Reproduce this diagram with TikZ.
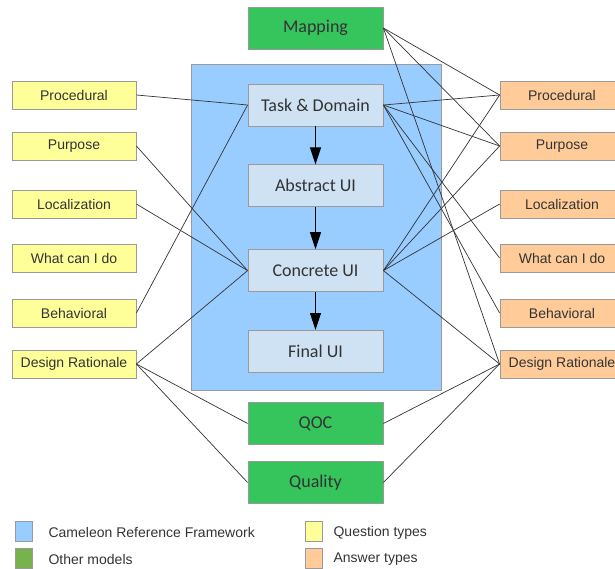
\documentclass[tikz,border=0pt]{standalone}
\usepackage{fontspec}
\setmainfont{Liberation Sans}
\newfontfamily\calibri{Carlito}
\usetikzlibrary{positioning, arrows.meta}

\definecolor{crfblue}{HTML}{99CCFF}
\definecolor{layerblue}{HTML}{CFE2F3}
\definecolor{modelgreen}{HTML}{36C45D}
\definecolor{legendgreen}{HTML}{77B24C}
\definecolor{qyellow}{HTML}{FFFF99}
\definecolor{aorange}{HTML}{FFCC99}
\definecolor{boxgray}{HTML}{9A9A9A}

\tikzset{
  model/.style={draw=black!40, fill=modelgreen, line width=0.8pt, inner sep=0pt, minimum width=135pt, minimum height=42pt, font=\calibri\fontsize{18}{20}\selectfont, text=black!80},
  layer/.style={model, draw=boxgray, fill=layerblue},
  question/.style={draw=boxgray, fill=qyellow, line width=0.8pt, inner sep=0pt, minimum width=124pt, minimum height=28pt, font=\fontsize{14}{16}\selectfont, text=black!80},
  answer/.style={question, fill=aorange},
  link/.style={draw=black!80, line width=0.7pt},
  refine/.style={-{Triangle[length=17pt,width=11pt]}, line width=1pt},
  key/.style={draw=boxgray, line width=0.8pt, inner sep=0pt, minimum width=17pt, minimum height=20pt},
  keytext/.style={inner sep=0pt, yshift=-1.5pt, font=\fontsize{14}{16}\selectfont, text=black!80}
}

\begin{document}
\begin{tikzpicture}[x=1pt, y=-1pt]
        \useasboundingbox (0,0) rectangle (615,569);

        % reference framework
        \node[draw=boxgray, fill=crfblue, line width=0.8pt, minimum width=250pt, minimum height=326pt] (crf) at (316,227) {};
        \node[layer] (task) at (315.5,105) {Task \& Domain};
        \node[layer, below=38pt of task] (abstract) {Abstract UI};
        \node[layer, below=42pt of abstract] (concrete) {Concrete UI};
        \node[layer, below=38pt of concrete] (final) {Final UI};

        % other models
        \node[model] (mapping) at (315.5,28) {Mapping};
        \node[model] (qoc) at (315.5,423.5) {QOC};
        \node[model] (quality) at (315.5,482.5) {Quality};

        % question types
        \node[question] (qproc) at (74,95) {Procedural};
        \node[question] (qpurp) at (74,146) {Purpose};
        \node[question] (qloc) at (74,204) {Localization};
        \node[question] (qwhat) at (74,258) {What can I do};
        \node[question] (qbeh) at (74,313) {Behavioral};
        \node[question] (qdr) at (74,364) {Design Rationale};

        % answer types
        \node[answer] (aproc) at (562,95) {Procedural};
        \node[answer] (apurp) at (562,146) {Purpose};
        \node[answer] (aloc) at (562,204) {Localization};
        \node[answer] (awhat) at (562,258) {What can I do};
        \node[answer] (abeh) at (562,313) {Behavioral};
        \node[answer] (adr) at (562,364) {Design Rationale};

        \draw[refine] (task) -- (abstract);
        \draw[refine] (abstract) -- (concrete);
        \draw[refine] (concrete) -- (final);

        \draw[link] (qproc.east) -- (task.west);
        \draw[link] (qbeh.east) -- (task.west);
        \draw[link] (qpurp.east) -- (concrete.west);
        \draw[link] (qloc.east) -- (concrete.west);
        \draw[link] (qdr.east) -- (concrete.west);
        \draw[link] (qdr.east) -- (qoc.west);
        \draw[link] (qdr.east) -- (quality.west);

        \draw[link] (mapping.east) -- (aproc.west);
        \draw[link] (mapping.east) -- (apurp.west);
        \draw[link] (mapping.east) -- (adr.west);
        \draw[link] (task.east) -- (aproc.west);
        \draw[link] (task.east) -- (apurp.west);
        \draw[link] (task.east) -- (awhat.west);
        \draw[link] (task.east) -- (abeh.west);
        \draw[link] (concrete.east) -- (aproc.west);
        \draw[link] (concrete.east) -- (apurp.west);
        \draw[link] (concrete.east) -- (aloc.west);
        \draw[link] (concrete.east) -- (adr.west);
        \draw[link] (qoc.east) -- (adr.west);
        \draw[link] (quality.east) -- (adr.west);

        % legend
        \node[key, fill=crfblue] (kcrf) at (23.5,531) {};
        \node[keytext, right=16pt of kcrf] (tcrf) {Cameleon Reference Framework};
        \node[key, fill=legendgreen] (kmodel) at (23.5,558) {};
        \node[keytext, right=16pt of kmodel] (tmodel) {Other models};
        \node[key, fill=qyellow] (kquestion) at (313.5,531) {};
        \node[keytext, right=11pt of kquestion] (tquestion) {Question types};
        \node[key, fill=aorange] (kanswer) at (313.5,558) {};
        \node[keytext, right=11pt of kanswer] (tanswer) {Answer types};
    \end{tikzpicture}
\end{document}
